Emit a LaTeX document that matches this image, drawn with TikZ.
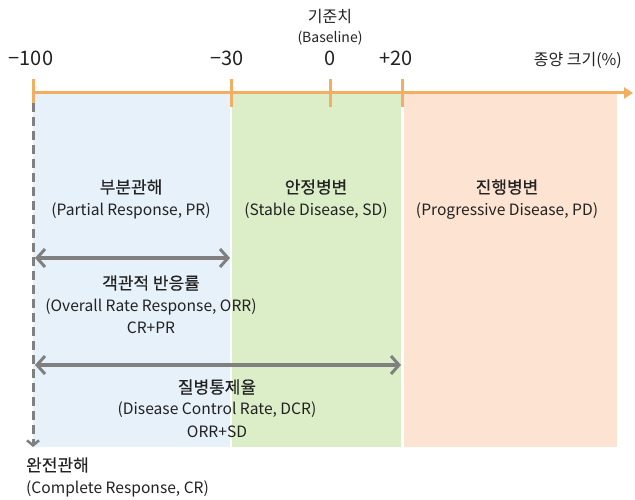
\documentclass[tikz,border=0pt]{standalone}
\usepackage{fontspec}
\setmainfont{Noto Sans CJK KR}
\newfontfamily\kohead[FakeBold=0.4]{Noto Sans CJK KR}
\usetikzlibrary{arrows.meta}
\definecolor{axisorange}{HTML}{F4AE62}
\definecolor{prfill}{HTML}{E6F1FA}
\definecolor{sdfill}{HTML}{DCEEC7}
\definecolor{pdfill}{HTML}{FDE3D1}
\definecolor{rategray}{HTML}{808080}
\definecolor{inkcol}{HTML}{222222}
\begin{document}
\begin{tikzpicture}[x=1pt,y=-1pt,
  ko/.style={font=\kohead\fontsize{17}{19}\selectfont, inner sep=0pt, text=inkcol},
  kosm/.style={font=\fontsize{16}{18}\selectfont, inner sep=0pt, text=inkcol},
  en/.style={font=\fontsize{15.6}{17}\selectfont, inner sep=0pt, text=inkcol},
  ensm/.style={font=\fontsize{14}{16}\selectfont, inner sep=0pt, text=inkcol},
  num/.style={font=\fontsize{20}{22}\selectfont, inner sep=0pt, text=inkcol},
  tick/.style={draw=axisorange, line width=3pt},
  span/.style={draw=rategray, line width=4pt, {Straight Barb[length=8pt,width=18pt,line width=3pt]}-{Straight Barb[length=8pt,width=18pt,line width=3pt]}},
]
\useasboundingbox (0,0) rectangle (635,500);
% response zones
\fill[prfill] (33,93) rectangle (230,447);
\fill[sdfill] (232,93) rectangle (401,447);
\fill[pdfill] (404,93) rectangle (617,447);

% tumour size axis
\coordinate (a0) at (33,93);
\coordinate (a1) at (633,93);
\draw[draw=axisorange, line width=3pt, -{Triangle[length=9pt,width=11pt]}] (a0) -- (a1);
\foreach \x in {33,231,330,402}{
  \draw[tick] (\x,79) -- (\x,107);
}
\node[num] (lm100) at (31,58) {−100};
\node[num] (lm30) at (227,58) {−30};
\node[num] (lz) at (330,58) {0};
\node[num] (lp20) at (396,58) {+20};
\node[kosm, anchor=east] (axlab) at (622,60) {종양 크기(\%)};
\node[kosm] (base) at (330,17) {기준치};
\node[ensm] (baseen) at (330,38) {(Baseline)};

% zone labels
\node[ko] (pr) at (131,187) {부분관해};
\node[en] (pren) at (131,211) {(Partial Response, PR)};
\node[ko] (sd) at (316,187) {안정병변};
\node[en] (sden) at (316,211) {(Stable Disease, SD)};
\node[ko] (pd) at (507,187) {진행병변};
\node[en] (pden) at (507,211) {(Progressive Disease, PD)};

% complete response marker
\coordinate (cr0) at (33,103);
\coordinate (cr1) at (33,447);
\draw[draw=rategray, line width=3pt, dash pattern=on 9pt off 5pt, -{Straight Barb[length=5pt,width=12pt,line width=2.5pt]}] (cr0) -- (cr1);
\node[ko, anchor=west] (cr) at (26,465) {완전관해};
\node[en, anchor=west] (cren) at (26,489) {(Complete Response, CR)};

% objective response rate
\coordinate (orr0) at (35,258);
\coordinate (orr1) at (230,258);
\draw[span] (orr0) -- (orr1);
\node[ko] (orr) at (151,283) {객관적 반응률};
\node[en] (orren) at (151,307) {(Overall Rate Response, ORR)};
\node[en] (orrsum) at (151,328) {CR+PR};

% disease control rate
\coordinate (dcr0) at (35,365);
\coordinate (dcr1) at (401,365);
\draw[span] (dcr0) -- (dcr1);
\node[ko] (dcr) at (217,387) {질병통제율};
\node[en] (dcren) at (217,410) {(Disease Control Rate, DCR)};
\node[en] (dcrsum) at (217,432) {ORR+SD};
\end{tikzpicture}
\end{document}
